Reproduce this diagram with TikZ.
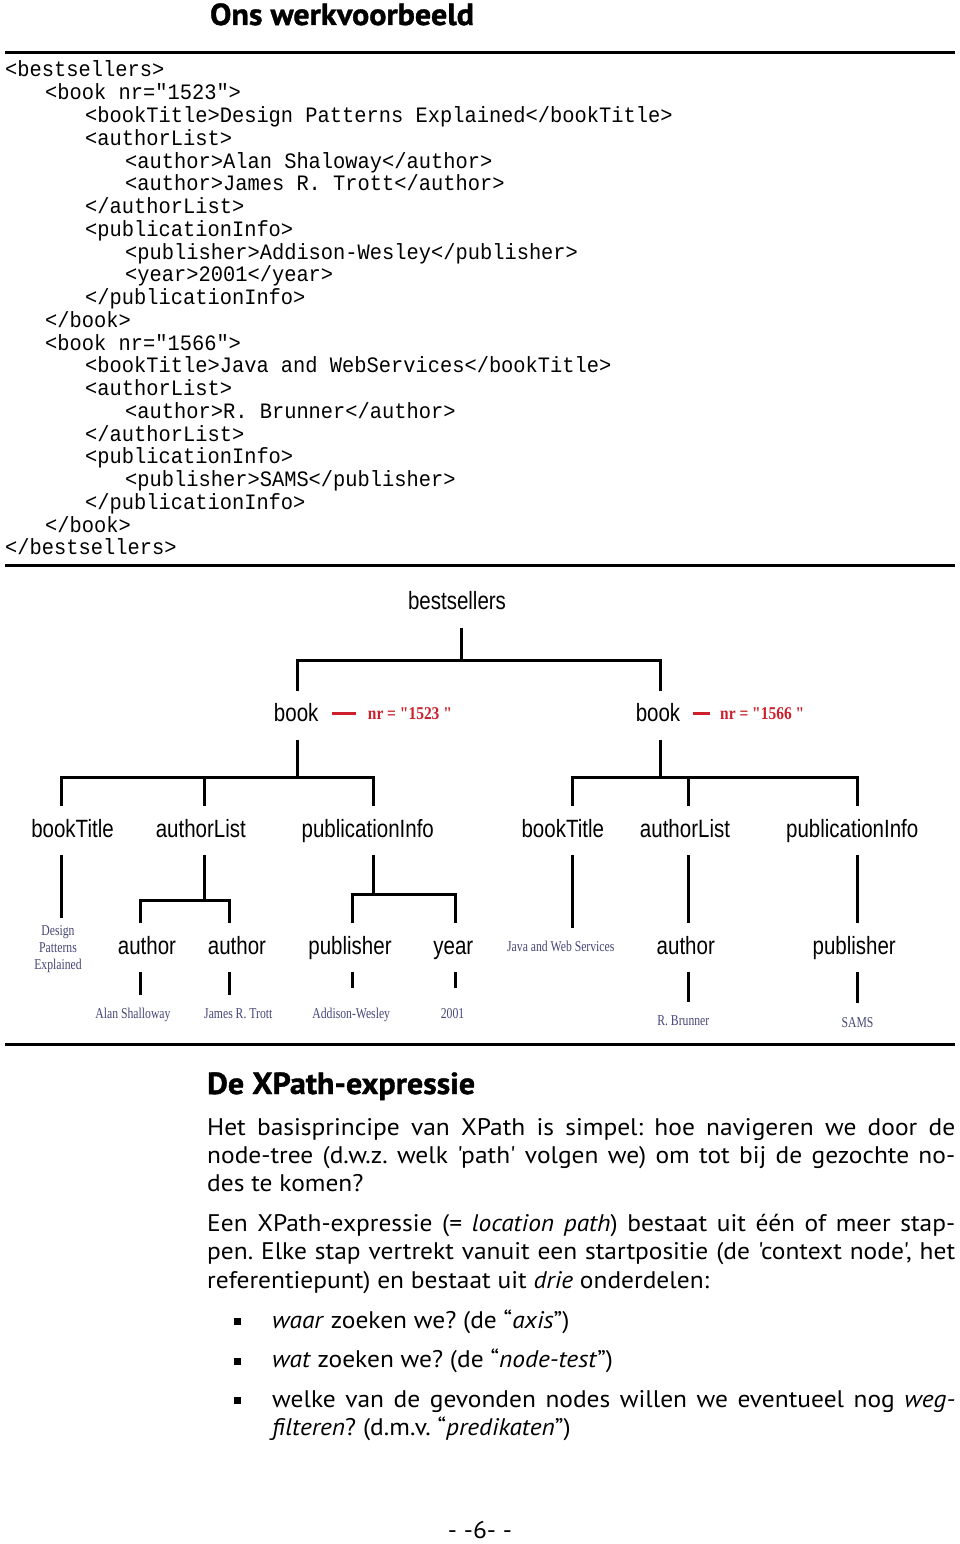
\documentclass[tikz,border=0pt]{standalone}
\usepackage{fontspec}
\newfontfamily\codefont[FakeStretch=0.927,Ligatures=TeXOff]{Liberation Mono}
\newfontfamily\lblfont[FakeStretch=0.82]{Liberation Sans}
\newfontfamily\valfont[FakeStretch=0.78]{Liberation Serif}
\newfontfamily\nrfont[FakeStretch=0.86,Ligatures=TeXOff]{Liberation Serif}
\newfontfamily\bodyfont[FakeStretch=1.06,Ligatures=TeXOff]{PT Sans}
\newfontfamily\headfont[FakeStretch=1.05,FakeBold=1.2]{PT Sans}
\definecolor{nrred}{RGB}{205,32,44}
\definecolor{valblue}{RGB}{70,70,120}
\tikzset{
  codeline/.style={anchor=base west, inner sep=0pt, font=\codefont\fontsize{22}{26}\selectfont},
  lbl/.style={font=\lblfont\fontsize{25}{30}\selectfont, text height=18pt, text depth=5pt, inner xsep=0pt, inner ysep=0pt, minimum height=49pt, outer sep=0pt},
  val/.style={font=\valfont\fontsize{15}{17}\selectfont, text=valblue, inner sep=0pt, text height=10pt, text depth=3pt, anchor=base},
  valmulti/.style={font=\valfont\fontsize{15}{17}\selectfont, text=valblue, inner sep=0pt, align=center, anchor=north},
  nr/.style={font=\nrfont\bfseries\fontsize{18}{20}\selectfont, text=nrred, inner sep=0pt, text height=14pt, text depth=2pt, anchor=base west},
  tree/.style={line width=3pt},
  rulebar/.style={line width=3pt},
  reddash/.style={draw=nrred, line width=3.5pt},
  body/.style={font=\bodyfont\fontsize{24}{28}\selectfont\frenchspacing, inner sep=0pt, anchor=base west},
  heading/.style={font=\headfont\bfseries\fontsize{30.5}{33}\selectfont, inner sep=0pt}
}
\begin{document}
\begin{tikzpicture}[x=1pt,y=-1pt]
\useasboundingbox (0,0) rectangle (960,1544);
\fill[white] (0,0) rectangle (960,1544);

% title and rules
\node[heading, anchor=base] (title) at (342,25) {Ons werkvoorbeeld};
\draw[rulebar] (5,52.5) -- (955,52.5);
\draw[rulebar] (5,565) -- (955,565);
\draw[rulebar] (5,1044.5) -- (955,1044.5);

% XML code
\node[codeline] (c0)  at (5,77.00)   {<bestsellers>};
\node[codeline] (c1)  at (45,99.76)  {<book nr="1523">};
\node[codeline] (c2)  at (85,122.52) {<bookTitle>Design Patterns Explained</bookTitle>};
\node[codeline] (c3)  at (85,145.28) {<authorList>};
\node[codeline] (c4)  at (125,168.04) {<author>Alan Shaloway</author>};
\node[codeline] (c5)  at (125,190.80) {<author>James R. Trott</author>};
\node[codeline] (c6)  at (85,213.56) {</authorList>};
\node[codeline] (c7)  at (85,236.32) {<publicationInfo>};
\node[codeline] (c8)  at (125,259.08) {<publisher>Addison-Wesley</publisher>};
\node[codeline] (c9)  at (125,281.84) {<year>2001</year>};
\node[codeline] (c10) at (85,304.60) {</publicationInfo>};
\node[codeline] (c11) at (45,327.36) {</book>};
\node[codeline] (c12) at (45,350.12) {<book nr="1566">};
\node[codeline] (c13) at (85,372.88) {<bookTitle>Java and WebServices</bookTitle>};
\node[codeline] (c14) at (85,395.64) {<authorList>};
\node[codeline] (c15) at (125,418.40) {<author>R. Brunner</author>};
\node[codeline] (c16) at (85,441.16) {</authorList>};
\node[codeline] (c17) at (85,463.92) {<publicationInfo>};
\node[codeline] (c18) at (125,486.68) {<publisher>SAMS</publisher>};
\node[codeline] (c19) at (85,509.44) {</publicationInfo>};
\node[codeline] (c20) at (45,532.20) {</book>};
\node[codeline] (c21) at (5,554.96) {</bestsellers>};

% tree nodes
\node[lbl] (best) at (457,603) {bestsellers};
\node[lbl] (book1) at (296.2,715) {book};
\node[lbl] (book2) at (658,715) {book};
\node[nr] (nr1) at (367.7,719.3) {nr = "1523 "};
\node[nr] (nr2) at (720,719.3) {nr = "1566 "};

\node[lbl] (bt1) at (72.5,830.5) {bookTitle};
\node[lbl] (al1) at (200.8,830.5) {authorList};
\node[lbl] (pi1) at (367.8,830.5) {publicationInfo};
\node[lbl] (bt2) at (562.8,830.5) {bookTitle};
\node[lbl] (al2) at (685,830.5) {authorList};
\node[lbl] (pi2) at (852.2,830.5) {publicationInfo};

\node[lbl] (au1) at (147,947.5) {author};
\node[lbl] (au2) at (237,947.5) {author};
\node[lbl] (pub1) at (350,947.5) {publisher};
\node[lbl] (yr1) at (453.3,947.5) {year};
\node[lbl] (au3) at (685.8,947.5) {author};
\node[lbl] (pub2) at (854.2,947.5) {publisher};

\node[valmulti] (des) at (58,925) {Design\\Patterns\\Explained};
\node[val] (java) at (560.8,951.7) {Java and Web Services};
\node[val] (v1) at (133,1018.3) {Alan Shalloway};
\node[val] (v2) at (238.3,1018.3) {James R. Trott};
\node[val] (v3) at (351.2,1018.3) {Addison-Wesley};
\node[val] (v4) at (452.5,1018.3) {2001};
\node[val] (v5) at (683.3,1025) {R. Brunner};
\node[val] (v6) at (857.5,1027.7) {SAMS};

% tree connectors
\draw[tree] (best.south -| 461,0) -- ++(0,32.5);
\draw[tree] (book1.north -| 297.7,0) -- ++(0,-30.5) -| (book2.north -| 660,0);
\draw[reddash, shorten <=13.4pt, shorten >=11.7pt] (book1.east |- nr1.west) -- (nr1.west);
\draw[reddash, shorten <=12.3pt, shorten >=10pt] (book2.east |- nr2.west) -- (nr2.west);

\draw[tree] (book1.south -| 297.7,0) -- ++(0,37.5);
\draw[tree] (bt1.north -| 61,0) -- ++(0,-29) -| (pi1.north -| 373.3,0);
\draw[tree] (al1.north -| 204.3,0) -- ++(0,-29);
\draw[tree] (book2.south -| 660,0) -- ++(0,37.5);
\draw[tree] (bt2.north -| 572.3,0) -- ++(0,-29) -| (pi2.north -| 857.7,0);
\draw[tree] (al2.north -| 688.3,0) -- ++(0,-29);

\draw[tree] (al1.south -| 204.3,0) -- ++(0,45);
\draw[tree] (au1.north -| 140,0) -- ++(0,-23) -| (au2.north -| 229.5,0);
\draw[tree] (pi1.south -| 373.3,0) -- ++(0,39);
\draw[tree] (pub1.north -| 352.7,0) -- ++(0,-29) -| (yr1.north -| 455.7,0);

\draw[tree, shorten >=7pt] (bt1.south -| 61,0) -- (des.north -| 61,0);
\draw[tree, shorten >=13.4pt] (bt2.south -| 572.3,0) -- (java.north -| 572.3,0);
\draw[tree] (al2.south -| 688.3,0) -- (au3.north -| 688.3,0);
\draw[tree] (pi2.south -| 857.7,0) -- (pub2.north -| 857.7,0);

\draw[tree, shorten >=12.8pt] (au1.south -| 140,0) -- (v1.north -| 140,0);
\draw[tree, shorten >=12.8pt] (au2.south -| 229.5,0) -- (v2.north -| 229.5,0);
\draw[tree, shorten >=20.3pt] (pub1.south -| 352.7,0) -- (v3.north -| 352.7,0);
\draw[tree, shorten >=20.3pt] (yr1.south -| 455.7,0) -- (v4.north -| 455.7,0);
\draw[tree, shorten >=13.3pt] (au3.south -| 688.3,0) -- (v5.north -| 688.3,0);
\draw[tree, shorten >=14.4pt] (pub2.south -| 857.7,0) -- (v6.north -| 857.7,0);

% text section
\node[heading, anchor=base west] (h2) at (207,1094) {De XPath-expressie};
\node[body] (p1) at (207,1135) {\makebox[748pt][s]{Het basisprincipe van XPath is simpel: hoe navigeren we door de}};
\node[body] (p2) at (207,1163) {\makebox[748pt][s]{node-tree (d.w.z. welk 'path' volgen we) om tot bij de gezochte no-}};
\node[body] (p3) at (207,1191) {des te komen?};
\node[body] (p4) at (207,1231) {\makebox[748pt][s]{Een XPath-expressie (= \textit{location path}) bestaat uit één of meer stap-}};
\node[body] (p5) at (207,1259) {\makebox[748pt][s]{pen. Elke stap vertrekt vanuit een startpositie (de 'context node', het}};
\node[body] (p6) at (207,1288) {referentiepunt) en bestaat uit \textit{drie} onderdelen:};

\fill (234,1318.2) rectangle ++(7,7);
\fill (234,1357.5) rectangle ++(7,7);
\fill (234,1396.5) rectangle ++(7,7);
\node[body] (b1) at (272,1328) {\textit{waar} zoeken we? (de “\textit{axis}”)};
\node[body] (b2) at (272,1367) {\textit{wat} zoeken we? (de “\textit{node-test}”)};
\node[body] (b3) at (272,1407) {\makebox[683pt][s]{welke van de gevonden nodes willen we eventueel nog \textit{weg-}}};
\node[body] (b4) at (272,1435) {\textit{filteren}? (d.m.v. “\textit{predikaten}”)};

\node[body, anchor=base] (pg) at (480,1538) {- -6- -};
\end{tikzpicture}
\end{document}
